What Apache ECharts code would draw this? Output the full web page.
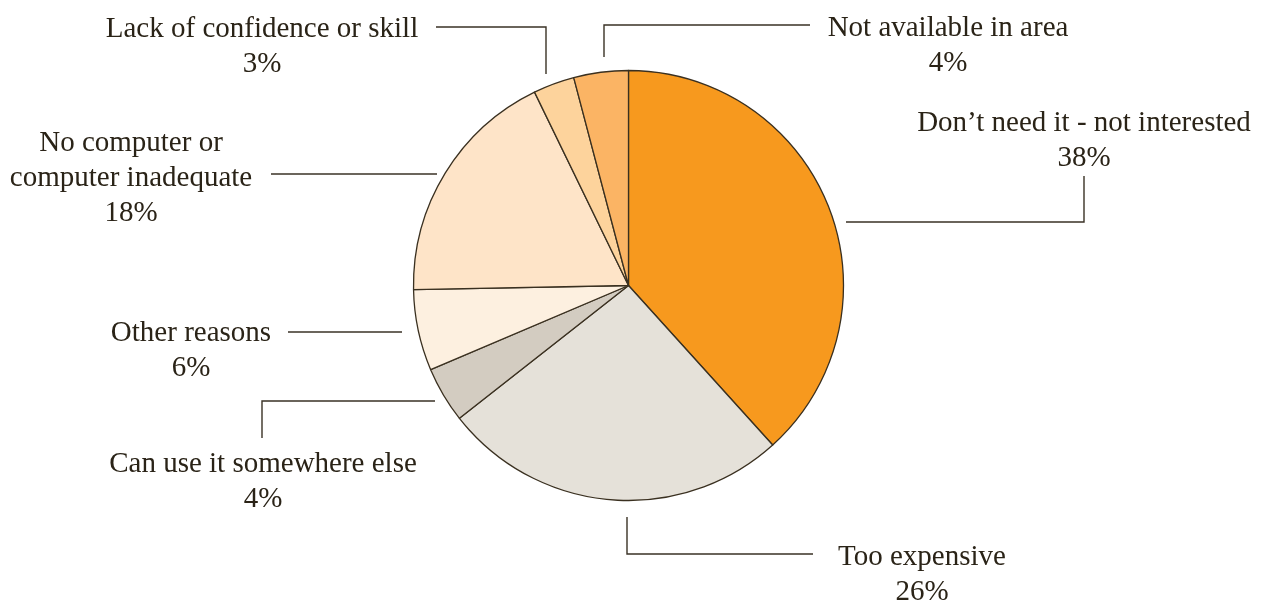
<!DOCTYPE html>
<html>
<head>
<meta charset="utf-8">
<script src="https://cdn.jsdelivr.net/npm/echarts@6/dist/echarts.min.js"></script>
<style>
html,body{margin:0;padding:0;background:#fff;}
#chart{width:1265px;height:600px;}
</style>
</head>
<body>
<div id="chart"></div>
<script>
// Data (percent shares; labels show rounded values)
var categories = [
  'Don\u2019t need it - not interested',
  'Too expensive',
  'Can use it somewhere else',
  'Other reasons',
  'No computer or\ncomputer inadequate',
  'Lack of confidence or skill',
  'Not available in area'
];
var shares = [38.3, 26.1, 4.2, 6.1, 18.1, 3.1, 4.1];
var labelPct = [38, 26, 4, 6, 18, 3, 4];
var colors = ['#F7991E', '#E5E1D9', '#D3CCC1', '#FDF0E0', '#FEE4C8', '#FDD39C', '#FBB464'];

// Label annotation layout (pixels): text centre x, text top y, leader polyline
var labelPlaces = [
  {x: 1084, y: 106, line: [[846, 222], [1084, 222], [1084, 176]]},
  {x: 922, y: 540, line: [[627, 517], [627, 554], [813, 554]]},
  {x: 263, y: 447, line: [[435, 401], [262, 401], [262, 438]]},
  {x: 191, y: 316, line: [[402, 332], [288, 332]]},
  {x: 131, y: 126, line: [[437, 174], [271, 174]]},
  {x: 262, y: 12, line: [[546, 74], [546, 27], [436, 27]]},
  {x: 948, y: 11, line: [[604, 57], [604, 25], [810, 25]]}
];

var data = categories.map(function (c, i) {
  return {name: c, value: shares[i], itemStyle: {color: colors[i]}};
});

var chart = echarts.init(document.getElementById('chart'), null, {renderer: 'canvas'});
chart.setOption({
  animation: false,
  backgroundColor: '#ffffff',
  series: [{
    type: 'pie',
    center: [628.5, 285.5],
    radius: 215,
    startAngle: 90,
    clockwise: true,
    avoidLabelOverlap: false,
    data: data,
    itemStyle: {borderColor: '#3a3020', borderWidth: 1.3},
    label: {
      show: true,
      position: 'outside',
      formatter: function (p) { return p.name + '\n' + labelPct[p.dataIndex] + '%'; },
      fontFamily: '"Liberation Serif", "Times New Roman", serif',
      fontSize: 29,
      lineHeight: 35,
      color: '#2a2317',
      align: 'center'
    },
    labelLine: {
      show: true,
      length: 10,
      length2: 10,
      lineStyle: {color: '#3a3226', width: 1.4}
    },
    labelLayout: function (params) {
      var p = labelPlaces[params.dataIndex];
      return {
        x: p.x,
        y: p.y,
        align: 'center',
        verticalAlign: 'top',
        labelLinePoints: p.line
      };
    },
    emphasis: {disabled: true}
  }]
});
</script>
</body>
</html>
